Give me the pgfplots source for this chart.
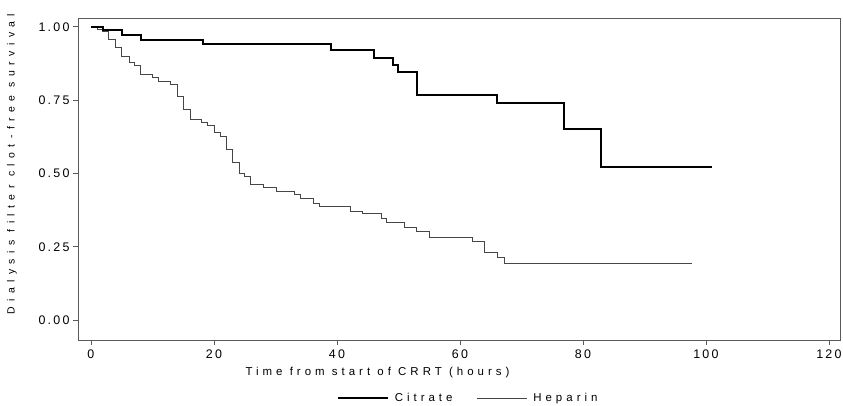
\documentclass[border=0pt]{standalone}
\usepackage{fontspec}
\setmainfont{Liberation Sans}
\newfontfamily\spaced[LetterSpace=18]{Liberation Sans}
\newfontfamily\midspaced[LetterSpace=35]{Liberation Sans}
\newfontfamily\wide[LetterSpace=52]{Liberation Sans}
\usepackage{pgfplots}
\pgfplotsset{compat=1.18}
\definecolor{frame}{RGB}{90,90,90}
\definecolor{hepgray}{RGB}{70,70,70}
\begin{document}
\begin{tikzpicture}
\useasboundingbox (0,0) rectangle (843bp,406bp);
\begin{axis}[
  at={(78bp,66bp)}, anchor=south west,
  scale only axis,
  width=762bp, height=322bp,
  xmin=-2.1, xmax=121.8,
  ymin=-0.068, ymax=1.03,
  xtick={0,20,40,60,80,100,120},
  ytick={0,0.25,0.5,0.75,1},
  yticklabels={0.00,0.25,0.50,0.75,1.00},
  /pgf/number format/assume math mode=true,
  tick pos=left, tick align=outside,
  major tick length=5bp,
  axis line style={frame, line width=0.8pt},
  tick style={frame, line width=0.6pt},
  ticklabel style={font=\spaced\fontsize{12.5}{14}\selectfont},
  xticklabel style={yshift=-1bp},
  xlabel={Time from start of CRRT (hours)},
  xlabel style={font=\midspaced\fontsize{11.5}{13}\selectfont,
    at={(axis description cs:0.393,-0.101)}, anchor=center},
  ylabel={Dialysis filter clot-free survival},
  ylabel style={font=\wide\fontsize{10.5}{12}\selectfont,
    at={(axis description cs:-0.0866,0.546)}, anchor=center},
  legend columns=2,
  legend style={at={(0.512,-0.18)}, anchor=center, draw=none, fill=none,
    font=\midspaced\fontsize{11.5}{13}\selectfont,
    /tikz/every odd column/.append style={column sep=4bp},
    /tikz/every even column/.append style={column sep=22bp}},
  legend image code/.code={\draw[#1] (0bp,0bp) -- (50bp,0bp);},
  legend cell align=left,
]
\addplot[const plot, black, line width=2pt] coordinates {
  (0,1) (1.95,0.989) (5.0,0.973) (8.1,0.955) (18.2,0.941) (39.0,0.921)
  (46.0,0.894) (49.1,0.871) (50.0,0.845) (53.0,0.768) (66.1,0.740)
  (77.0,0.650) (83.0,0.521) (101.0,0.521)
};
\addlegendentry{Citrate}
\addplot[const plot, hepgray, line width=0.8pt] coordinates {
  (0,1) (1.1,0.990) (1.9,0.983) (2.9,0.956) (4.0,0.930) (4.9,0.898)
  (6.2,0.878) (7.0,0.867) (8.0,0.836) (10.0,0.826) (11.0,0.814)
  (12.9,0.803) (14.0,0.764) (15.0,0.718) (16.1,0.684) (18.0,0.674)
  (19.0,0.664) (20.0,0.640) (21.1,0.627) (22.0,0.582) (23.0,0.538)
  (24.1,0.500) (25.0,0.490) (26.0,0.463) (28.0,0.453) (30.1,0.440)
  (33.1,0.429) (34.1,0.414) (36.1,0.399) (37.1,0.388) (42.2,0.372)
  (44.1,0.363) (47.2,0.346) (48.0,0.333) (50.9,0.317) (53.0,0.301)
  (55.1,0.283) (62.0,0.268) (64.0,0.231) (66.1,0.213) (67.2,0.194)
  (97.8,0.194)
};
\addlegendentry{Heparin}
\addplot[const plot, black, line width=2pt, forget plot] coordinates {
  (0,1) (1.95,0.989) (5.0,0.973) (8.1,0.955) (18.2,0.941)
};
\end{axis}
\end{tikzpicture}
\end{document}
